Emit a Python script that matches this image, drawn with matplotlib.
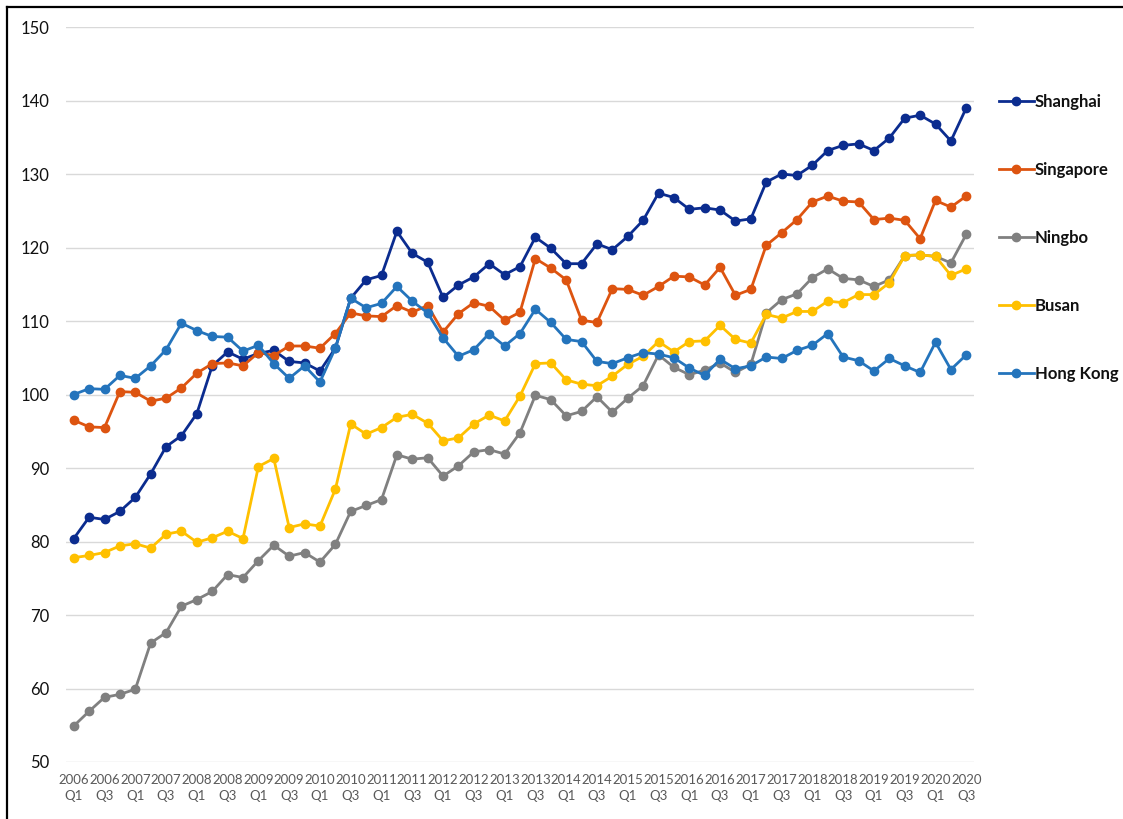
import numpy as np
import matplotlib
matplotlib.use("Agg")
import matplotlib.pyplot as plt
from matplotlib.lines import Line2D

plt.rcParams['font.family'] = ['Lato', 'DejaVu Sans']

years = list(range(2006, 2021))
quarters = [f"{y}\nQ{q}" for y in years for q in (1, 2, 3, 4)][:59]

shanghai = [80.4, 83.3, 83.0, 84.1, 86.0, 89.2, 92.9, 94.4, 97.4, 103.9,
            105.8, 104.8, 105.6, 106.0, 104.5, 104.3, 103.2, 106.3, 113.1, 115.6,
            116.2, 122.2, 119.2, 118.0, 113.2, 114.9, 116.0, 117.8, 116.3, 117.4,
            121.4, 119.9, 117.8, 117.8, 120.5, 119.7, 121.5, 123.7, 127.4, 126.8,
            125.2, 125.4, 125.1, 123.6, 123.9, 128.9, 130.0, 129.8, 131.2, 133.2,
            133.9, 134.1, 133.2, 134.9, 137.6, 138.0, 136.8, 134.5, 139.0]
singapore = [96.5, 95.6, 95.5, 100.4, 100.3, 99.1, 99.5, 100.9, 102.9, 104.2,
             104.3, 103.9, 105.7, 105.3, 106.6, 106.6, 106.3, 108.3, 111.1, 110.7,
             110.6, 112.1, 111.2, 112.1, 108.5, 111.0, 112.5, 112.0, 110.1, 111.2,
             118.5, 117.2, 115.6, 110.1, 109.8, 114.4, 114.3, 113.5, 114.7, 116.1,
             116.0, 114.9, 117.3, 113.5, 114.3, 120.3, 122.0, 123.8, 126.2, 127.0,
             126.3, 126.2, 123.8, 124.0, 123.7, 121.2, 126.4, 125.5, 127.0]
ningbo = [54.9, 56.9, 58.8, 59.2, 59.9, 66.2, 67.6, 71.2, 72.1, 73.2,
          75.5, 75.1, 77.4, 79.5, 78.0, 78.5, 77.2, 79.6, 84.1, 84.9,
          85.7, 91.8, 91.2, 91.4, 88.9, 90.3, 92.2, 92.5, 91.9, 94.8,
          99.9, 99.3, 97.1, 97.7, 99.7, 97.6, 99.5, 101.2, 105.4, 103.7,
          102.7, 103.3, 104.3, 103.0, 104.1, 111.1, 112.9, 113.7, 115.9, 117.1,
          115.8, 115.6, 114.7, 115.6, 118.9, 119.0, 118.8, 117.9, 121.8]
busan = [77.8, 78.1, 78.5, 79.4, 79.7, 79.1, 81.0, 81.4, 79.9, 80.5,
         81.4, 80.4, 90.2, 91.3, 81.9, 82.4, 82.1, 87.1, 96.0, 94.6,
         95.5, 96.9, 97.3, 96.1, 93.7, 94.1, 96.0, 97.2, 96.4, 99.8,
         104.2, 104.3, 102.0, 101.4, 101.2, 102.5, 104.1, 105.2, 107.2, 105.8,
         107.2, 107.3, 109.4, 107.5, 107.0, 110.9, 110.4, 111.3, 111.3, 112.7,
         112.5, 113.6, 113.6, 115.2, 118.9, 119.0, 118.8, 116.2, 117.1]
hongkong = [100.0, 100.8, 100.7, 102.6, 102.2, 103.9, 106.1, 109.7, 108.7, 107.9,
            107.8, 105.9, 106.7, 104.2, 102.2, 103.9, 101.7, 106.3, 113.1, 111.8,
            112.4, 114.7, 112.7, 111.1, 107.7, 105.2, 106.1, 108.3, 106.6, 108.3,
            111.6, 109.8, 107.5, 107.2, 104.5, 104.2, 105.0, 105.7, 105.5, 105.0,
            103.6, 102.6, 104.8, 103.5, 103.9, 105.1, 104.9, 106.0, 106.7, 108.3,
            105.1, 104.6, 103.2, 104.9, 103.9, 103.0, 107.1, 103.4, 105.4]

names = ["Shanghai", "Singapore", "Ningbo", "Busan", "Hong Kong"]
colors = ["#0B2C8F", "#DD5410", "#808080", "#FFC000", "#2474BC"]
series = [shanghai, singapore, ningbo, busan, hongkong]

fig = plt.figure(figsize=(11.23, 8.19), dpi=100)
ax = fig.add_axes([0.0588, 0.0696, 0.8085, 0.8974])

x = np.arange(len(quarters))
handles = []
for k, (name, vals, c) in enumerate(zip(names, series, colors)):
    h, = ax.plot(x, vals, color=c, lw=2.0, marker="o", markersize=6,
                 label=name, zorder=3 + k, clip_on=False)
    handles.append(h)

ax.set_xlim(-0.5, len(quarters) - 0.5)
ax.set_ylim(50, 150)
ax.set_yticks(range(50, 151, 10))
ax.set_xticks(x[::2])
ax.set_xticklabels(quarters[::2], fontsize=9.5, color="#595959", linespacing=1.4)
ax.tick_params(axis="x", length=0, pad=9)
ax.tick_params(axis="y", length=0, pad=12, labelsize=12, labelcolor="#111111")
ax.grid(axis="y", color="#D9D9D9", lw=1.0)
ax.set_axisbelow(True)
for s in ax.spines.values():
    s.set_visible(False)

leg = ax.legend(handles=handles, loc="upper left", bbox_to_anchor=(0.882, 0.896),
                bbox_transform=fig.transFigure, frameon=False, handlelength=2.1,
                handletextpad=0.05, labelspacing=3.12, borderpad=0,
                prop={"size": 12, "weight": "bold"})
for t in leg.get_texts():
    t.set_color("#111111")

# frame edges of the original screenshot
fig.add_artist(Line2D([0.0062, 0.0062], [0, 0.9915], transform=fig.transFigure,
                      color="black", lw=1.6))
fig.add_artist(Line2D([0.0062, 1.0], [0.9915, 0.9915], transform=fig.transFigure,
                      color="black", lw=1.6))

fig.savefig("out.png", dpi=100)
